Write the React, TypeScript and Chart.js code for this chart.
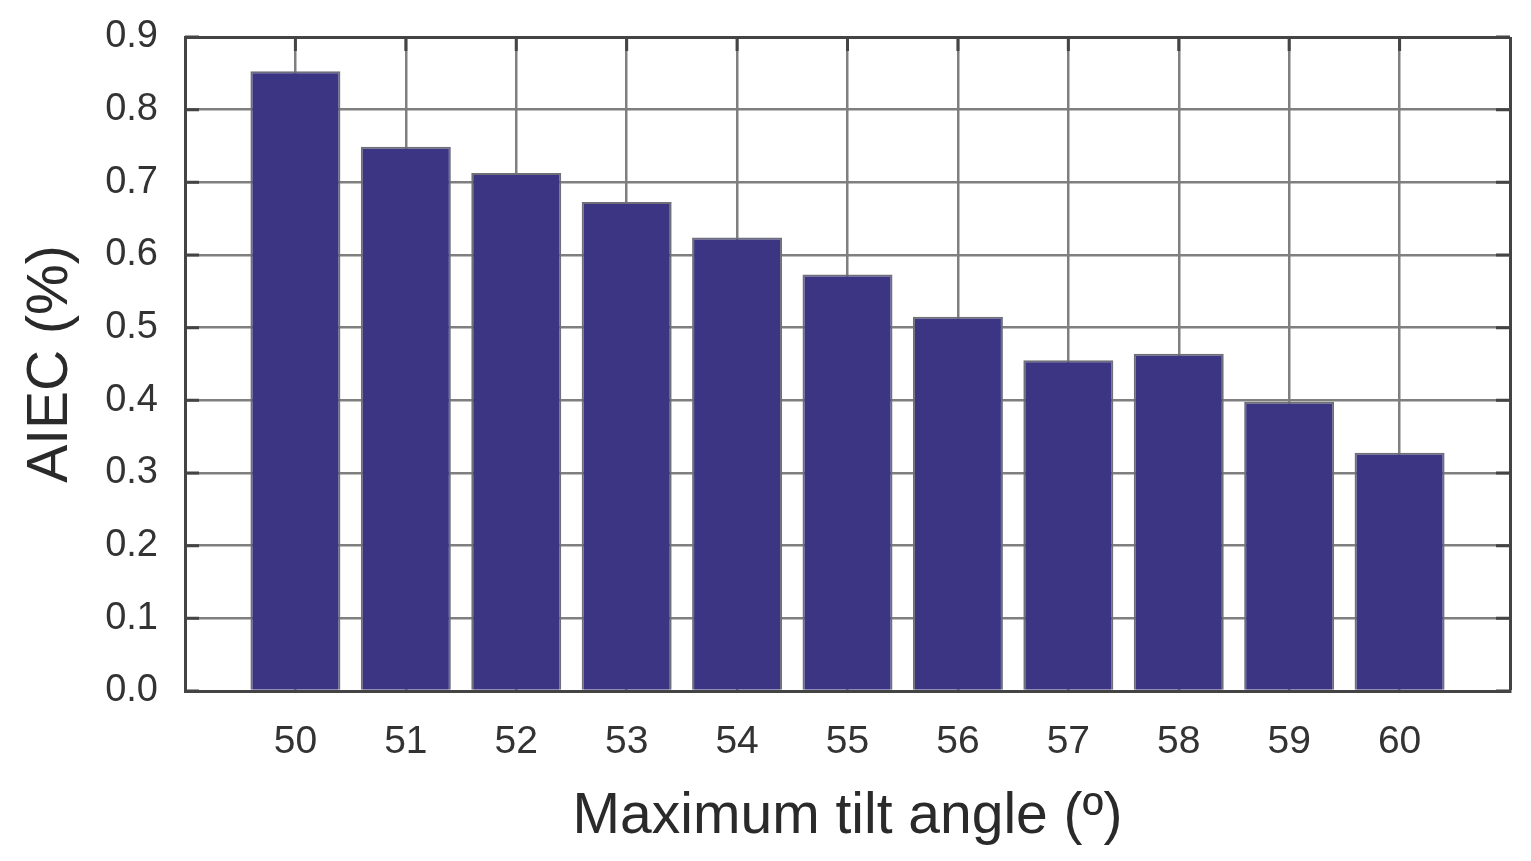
import { useEffect, useRef } from "react";
import Chart from "chart.js/auto";

const categories = [50, 51, 52, 53, 54, 55, 56, 57, 58, 59, 60];
const aiecValues = [0.853, 0.749, 0.713, 0.673, 0.624, 0.573, 0.515, 0.455, 0.464, 0.398, 0.328];
const yTicks = [0, 0.1, 0.2, 0.3, 0.4, 0.5, 0.6, 0.7, 0.8, 0.9];

const FONT = "'Liberation Sans', Arial, Helvetica, sans-serif";
const EDGE = "#444444";
const GRID = "#7f7f7f";

// short inward tick marks on the frame
const frameTicks = {
	id: "frameTicks",
	afterDatasetsDraw(chart: Chart) {
		const { ctx, chartArea } = chart;
		const x = chart.scales.x;
		const y = chart.scales.y;
		const len = 14;
		ctx.save();
		ctx.strokeStyle = EDGE;
		ctx.lineWidth = 3;
		ctx.beginPath();
		yTicks.forEach((v) => {
			const py = y.getPixelForValue(v);
			ctx.moveTo(chartArea.left, py);
			ctx.lineTo(chartArea.left + len, py);
			ctx.moveTo(chartArea.right, py);
			ctx.lineTo(chartArea.right - len, py);
		});
		categories.forEach((c) => {
			const px = x.getPixelForValue(c);
			ctx.moveTo(px, chartArea.top);
			ctx.lineTo(px, chartArea.top + len);
		});
		ctx.stroke();
		ctx.restore();
	}
};

export default function App() {
	const canvasRef = useRef<HTMLCanvasElement>(null);
	const chartRef = useRef<Chart | null>(null);

	useEffect(() => {
		if (!canvasRef.current) return;

		chartRef.current = new Chart(canvasRef.current, {
			type: "bar",
			data: {
				datasets: [
					{
						data: categories.map((c, i) => ({ x: c, y: aiecValues[i] })),
						backgroundColor: "#3b3584",
						borderColor: "#6f6f7a",
						borderWidth: 2,
						categoryPercentage: 1,
						barPercentage: 0.815
					}
				]
			},
			options: {
				animation: false,
				responsive: true,
				maintainAspectRatio: false,
				layout: { padding: { left: 0, top: 37, right: 21, bottom: 0 } },
				plugins: {
					legend: { display: false },
					tooltip: { enabled: false }
				},
				scales: {
					x: {
						type: "linear",
						min: 49,
						max: 61,
						offset: false,
						afterFit: (scale: any) => {
							scale.height = 170;
						},
						ticks: {
							stepSize: 1,
							padding: 7,
							color: "#333333",
							font: { family: FONT, size: 39 },
							callback: (v: any) => (categories.includes(v) ? String(v) : "")
						},
						grid: {
							offset: false,
							drawTicks: true,
							tickLength: 21,
							tickColor: "rgba(0,0,0,0)",
							color: (c: any) => (c.tick && c.tick.value === 61 ? EDGE : GRID),
							lineWidth: (c: any) => (c.tick && c.tick.value === 61 ? 3 : 2.5)
						},
						border: { color: EDGE, width: 3 },
						title: {
							display: true,
							text: "Maximum tilt angle (º)",
							color: "#2a2a2a",
							font: { family: FONT, size: 57 },
							padding: { top: 0, bottom: 10 }
						}
					},
					y: {
						min: 0,
						max: 0.9,
						afterFit: (scale: any) => {
							scale.width = 185;
						},
						ticks: {
							stepSize: 0.1,
							padding: 5,
							color: "#333333",
							font: { family: FONT, size: 38 },
							callback: (v: any) => Number(v).toFixed(1)
						},
						grid: {
							drawTicks: true,
							tickLength: 22,
							tickColor: "rgba(0,0,0,0)",
							color: (c: any) => (c.tick && Math.abs(c.tick.value - 0.9) < 1e-6 ? EDGE : GRID),
							lineWidth: (c: any) => (c.tick && Math.abs(c.tick.value - 0.9) < 1e-6 ? 3 : 2.5)
						},
						border: { color: EDGE, width: 3 },
						title: {
							display: true,
							text: "AIEC (%)",
							color: "#2a2a2a",
							font: { family: FONT, size: 57 },
							padding: { top: 17, bottom: 0 }
						}
					}
				}
			},
			plugins: [frameTicks]
		});

		return () => {
			chartRef.current?.destroy();
			chartRef.current = null;
		};
	}, []);

	return (
		<div
			style={{
				position: "absolute",
				left: 0,
				top: 0,
				width: 1531,
				height: 861,
				background: "#ffffff"
			}}
		>
			<canvas ref={canvasRef} style={{ width: "100%", height: "100%" }} />
		</div>
	);
}
